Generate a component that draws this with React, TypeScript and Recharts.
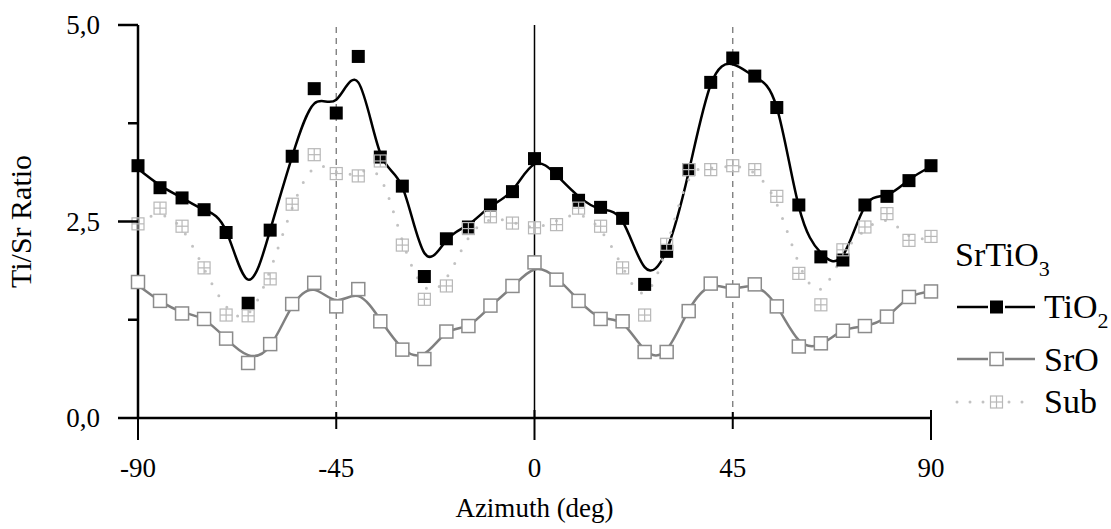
import React from "react";
import { ComposedChart, Line, XAxis, YAxis, ReferenceLine } from "recharts";

// azimuth in degrees
const azimuth = [
  -90, -85, -80, -75, -70, -65, -60, -55, -50, -45, -40, -35, -30, -25, -20, -15, -10, -5, 0,
  5, 10, 15, 20, 25, 30, 35, 40, 45, 50, 55, 60, 65, 70, 75, 80, 85, 90,
];

// measured Ti/Sr ratios
const tio2 = [
  3.21, 2.93, 2.8, 2.65, 2.36, 1.46, 2.39, 3.33, 4.19, 3.88, 4.6, 3.32, 2.95, 1.8, 2.28, 2.43, 2.71, 2.88, 3.3,
  3.11, 2.77, 2.68, 2.54, 1.7, 2.12, 3.16, 4.27, 4.58, 4.35, 3.95, 2.71, 2.05, 2.01, 2.71, 2.82, 3.02, 3.21,
];
const sro = [
  1.73, 1.49, 1.33, 1.26, 1.01, 0.7, 0.94, 1.45, 1.72, 1.42, 1.64, 1.23, 0.87, 0.75, 1.1, 1.17, 1.43, 1.68, 1.98,
  1.76, 1.49, 1.26, 1.23, 0.84, 0.84, 1.36, 1.71, 1.62, 1.7, 1.42, 0.91, 0.95, 1.11, 1.17, 1.29, 1.54, 1.61,
];
const sub = [
  2.47, 2.67, 2.44, 1.91, 1.31, 1.3, 1.77, 2.72, 3.35, 3.11, 3.08, 3.27, 2.2, 1.51, 1.68, 2.41, 2.56, 2.48, 2.42,
  2.46, 2.67, 2.44, 1.91, 1.31, 2.21, 3.16, 3.16, 3.21, 3.16, 2.82, 1.84, 1.44, 2.14, 2.43, 2.6, 2.26, 2.31,
];

// smoothed curves
const tio2Fit = [
  3.17, 2.96, 2.8, 2.65, 2.38, 1.76, 2.39, 3.33, 4.0, 4.05, 4.27, 3.37, 2.94, 2.1, 2.26, 2.46, 2.69, 2.9, 3.23,
  3.09, 2.82, 2.66, 2.5, 1.92, 2.14, 3.13, 4.24, 4.5, 4.34, 3.95, 2.69, 2.1, 2.07, 2.69, 2.84, 3.03, 3.2,
];
const sroFit = [
  1.69, 1.49, 1.35, 1.25, 1.01, 0.8, 0.92, 1.42, 1.63, 1.5, 1.55, 1.25, 0.89, 0.82, 1.08, 1.18, 1.42, 1.67, 1.89,
  1.78, 1.5, 1.28, 1.2, 0.87, 0.87, 1.37, 1.67, 1.65, 1.67, 1.42, 0.99, 0.94, 1.11, 1.17, 1.29, 1.53, 1.61,
];
const subFit = [
  2.5, 2.58, 2.4, 1.9, 1.42, 1.33, 1.88, 2.67, 3.18, 3.13, 3.12, 3.05, 2.26, 1.67, 1.78, 2.29, 2.52, 2.49, 2.43,
  2.51, 2.58, 2.39, 1.92, 1.59, 2.18, 3.03, 3.18, 3.2, 3.11, 2.72, 1.97, 1.64, 2.07, 2.39, 2.51, 2.32, 2.29,
];

const xTicks = [-90, -45, 0, 45, 90];
const yTicks = [0, 1.25, 2.5, 3.75, 5];
const yTicksRight = [1.25, 2.5, 3.75];

const data = azimuth.map((az, i) => ({
  az,
  tio2: tio2[i],
  sro: sro[i],
  sub: sub[i],
  tio2Fit: tio2Fit[i],
  sroFit: sroFit[i],
  subFit: subFit[i],
}));

const FONT = '"Liberation Serif", "Times New Roman", serif';
const SRO_GRAY = "#808080";
const SUB_GRAY = "#c2c2c2";
const AXIS_FONT = 27;
const LEGEND_FONT = 34;

const FilledSquare = (props: any) => {
  const { cx, cy } = props;
  if (cx == null || cy == null) return null;
  return <rect x={cx - 6.5} y={cy - 6.5} width={13} height={13} fill="#000" />;
};

const OpenSquare = (props: any) => {
  const { cx, cy } = props;
  if (cx == null || cy == null) return null;
  return (
    <rect x={cx - 6.5} y={cy - 6.5} width={13} height={13} fill="#fff" stroke="#8c8c8c" strokeWidth={1.5} />
  );
};

const CrossSquare = (props: any) => {
  const { cx, cy } = props;
  if (cx == null || cy == null) return null;
  return (
    <g stroke="#b8b8b8" strokeWidth={1.2} fill="none">
      <rect x={cx - 6} y={cy - 6} width={12} height={12} />
      <line x1={cx} x2={cx} y1={cy - 6} y2={cy + 6} />
      <line x1={cx - 6} x2={cx + 6} y1={cy} y2={cy} />
    </g>
  );
};

const LeftTick = (props: any) => {
  const { x, y, payload } = props;
  const major = payload.value % 2.5 === 0;
  const axisX = x + 38;
  return (
    <g>
      <line x1={axisX - (major ? 20 : 10)} x2={axisX} y1={y} y2={y} stroke="#000" strokeWidth={2.5} />
      {major && (
        <text x={x} y={y} dy="0.35em" textAnchor="end" fontSize={AXIS_FONT} fontFamily={FONT} fill="#000">
          {payload.value.toFixed(1).replace(".", ",")}
        </text>
      )}
    </g>
  );
};

const RightTick = (props: any) => {
  const { x, y, payload } = props;
  const major = payload.value % 2.5 === 0;
  return <line x1={x - (major ? 20 : 10)} x2={x} y1={y} y2={y} stroke="#000" strokeWidth={2.5} />;
};

const BottomTick = (props: any) => {
  const { x, y, payload } = props;
  const major = payload.value % 90 === 0;
  const axisY = y - 40;
  return (
    <g>
      <line x1={x} x2={x} y1={axisY - (major ? 8 : 6)} y2={axisY + (major ? 22 : 11)} stroke="#000" strokeWidth={2} />
      <text x={x} y={y} dy="0.71em" textAnchor="middle" fontSize={AXIS_FONT} fontFamily={FONT} fill="#000">
        {payload.value}
      </text>
    </g>
  );
};

const TopTick = (props: any) => {
  const { x, y, payload } = props;
  const major = payload.value % 90 === 0;
  return <line x1={x} x2={x} y1={y} y2={y + (major ? 20 : 10)} stroke="#000" strokeWidth={2} />;
};

const LegendBox = () => (
  <svg width={1111} height={529} style={{ position: "absolute", left: 0, top: 0, pointerEvents: "none" }}>
    <g fontFamily={FONT} fill="#000">
      <text x={955} y={266} fontSize={LEGEND_FONT}>
        SrTiO<tspan fontSize={22} dy={10}>3</tspan>
      </text>

      <line x1={957} x2={988} y1={307} y2={307} stroke="#000" strokeWidth={2.5} />
      <line x1={1005} x2={1035} y1={307} y2={307} stroke="#000" strokeWidth={2.5} />
      <FilledSquare cx={996.5} cy={307} />
      <text x={1044} y={318} fontSize={LEGEND_FONT}>
        TiO<tspan fontSize={22} dy={10}>2</tspan>
      </text>

      <line x1={957} x2={988} y1={359} y2={359} stroke={SRO_GRAY} strokeWidth={2.5} />
      <line x1={1005} x2={1035} y1={359} y2={359} stroke={SRO_GRAY} strokeWidth={2.5} />
      <OpenSquare cx={996.5} cy={359} />
      <text x={1044} y={371} fontSize={LEGEND_FONT}>
        SrO
      </text>

      <line
        x1={957}
        x2={1035}
        y1={402}
        y2={402}
        stroke={SUB_GRAY}
        strokeWidth={3}
        strokeDasharray="0 13"
        strokeLinecap="round"
      />
      <rect x={990} y={395} width={14} height={14} fill="#fff" />
      <CrossSquare cx={996.5} cy={402} />
      <text x={1044} y={413} fontSize={LEGEND_FONT}>
        Sub
      </text>
    </g>
  </svg>
);

export default function App() {
  return (
    <div style={{ position: "absolute", left: 0, top: 0, width: 1111, height: 529, background: "#fff" }}>
      <ComposedChart width={1111} height={529} data={data} margin={{ top: 25, right: 180, bottom: 0, left: 0 }}>
        <XAxis
          dataKey="az"
          type="number"
          domain={[-90, 90]}
          ticks={xTicks}
          interval={0}
          height={111}
          tickSize={22}
          tickMargin={18}
          tickLine={false}
          tick={<BottomTick />}
          axisLine={{ stroke: "#000", strokeWidth: 2.5 }}
          label={{
            value: "Azimuth (deg)",
            position: "insideBottom",
            offset: 12,
            style: { fontSize: AXIS_FONT, fontFamily: FONT, fill: "#000" },
          }}
        />
        <XAxis
          xAxisId="top"
          dataKey="az"
          orientation="top"
          type="number"
          domain={[-90, 90]}
          ticks={xTicks}
          interval={0}
          height={0}
          tickSize={0}
          tickMargin={0}
          tickLine={false}
          tick={<TopTick />}
          axisLine={{ stroke: "#000", strokeWidth: 2.5 }}
        />
        <YAxis
          type="number"
          domain={[0, 5]}
          ticks={yTicks}
          interval={0}
          width={138}
          tickSize={20}
          tickMargin={18}
          tickLine={false}
          tick={<LeftTick />}
          axisLine={{ stroke: "#000", strokeWidth: 2.5 }}
          label={{
            value: "Ti/Sr Ratio",
            angle: -90,
            position: "insideLeft",
            offset: 20,
            style: { fontSize: 30, fontFamily: FONT, fill: "#000", textAnchor: "middle" },
          }}
        />
        <YAxis
          yAxisId="right"
          orientation="right"
          type="number"
          domain={[0, 5]}
          ticks={yTicksRight}
          interval={0}
          width={0}
          tickSize={0}
          tickMargin={0}
          tickLine={false}
          tick={<RightTick />}
          axisLine={{ stroke: "#000", strokeWidth: 2.5 }}
        />

        <ReferenceLine x={-45} stroke="#777" strokeWidth={1.3} strokeDasharray="6 5" />
        <ReferenceLine x={45} stroke="#777" strokeWidth={1.3} strokeDasharray="6 5" />
        <ReferenceLine x={0} stroke="#000" strokeWidth={1.5} />

        <Line
          dataKey="tio2Fit"
          type="natural"
          stroke="#000"
          strokeWidth={2.5}
          dot={false}
          activeDot={false}
          isAnimationActive={false}
        />
        <Line dataKey="tio2" stroke="none" dot={<FilledSquare />} activeDot={false} isAnimationActive={false} />
        <Line
          dataKey="sroFit"
          type="natural"
          stroke={SRO_GRAY}
          strokeWidth={2.5}
          dot={false}
          activeDot={false}
          isAnimationActive={false}
        />
        <Line dataKey="sro" stroke="none" dot={<OpenSquare />} activeDot={false} isAnimationActive={false} />
        <Line
          dataKey="subFit"
          type="natural"
          stroke={SUB_GRAY}
          strokeWidth={3}
          strokeDasharray="0 14"
          strokeLinecap="round"
          dot={false}
          activeDot={false}
          isAnimationActive={false}
        />
        <Line dataKey="sub" stroke="none" dot={<CrossSquare />} activeDot={false} isAnimationActive={false} />
      </ComposedChart>
      <LegendBox />
    </div>
  );
}
